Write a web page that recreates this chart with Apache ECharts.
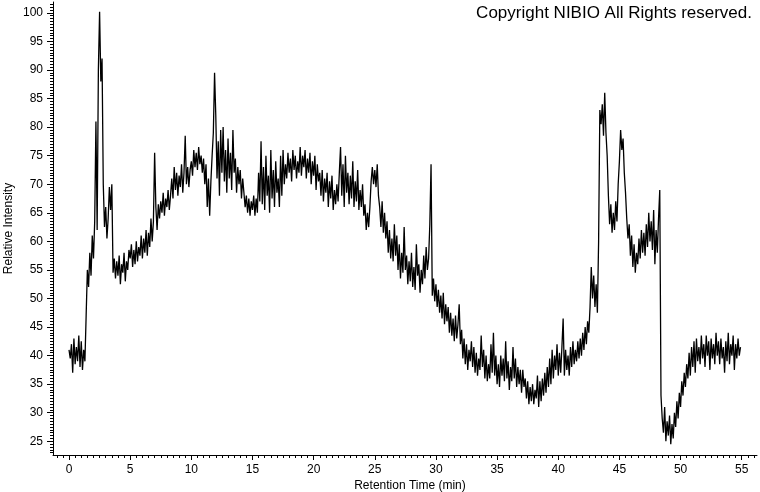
<!DOCTYPE html>
<html><head><meta charset="utf-8">
<script src="https://cdn.jsdelivr.net/npm/echarts@6/dist/echarts.min.js"></script>
<style>html,body{margin:0;padding:0;background:#fff}#c{width:760px;height:492px}</style>
</head><body><div id="c"></div><script>
// sampling of the trace: one reading every 0.1 min starting at 0.0 min
const sampleStart = 0.0;
const sampleStep = 0.1;
// Relative intensity readings, 5 minutes per array
const ri00_05 = [41.0,39.5,42.0,37.0,43.0,38.5,41.5,39.0,43.5,38.0,
  42.5,37.5,41.0,39.0,47.0,55.0,52.0,58.0,54.0,61.0,
  57.0,63.5,81.0,62.0,90.0,100.2,88.0,92.0,70.0,62.5,
  66.0,60.5,64.0,69.5,65.5,70.0,54.5,57.0,53.5,56.5,
  54.0,57.5,52.5,56.0,54.5,58.0,53.0,56.5,55.0,58.5];
const ri05_10 = [57.0,59.5,55.5,58.5,56.0,60.0,56.5,59.0,57.5,61.0,
  57.0,60.5,58.0,62.0,57.5,61.5,59.0,64.0,60.0,63.5,
  75.5,66.0,62.0,66.5,64.0,67.0,65.0,68.5,64.5,67.5,
  66.0,69.0,65.5,68.0,71.0,67.5,73.0,69.0,72.0,68.0,
  71.5,69.5,73.5,68.5,72.0,78.5,70.0,73.0,69.5,72.5];
const ri10_15 = [74.0,71.5,76.0,73.0,75.5,72.5,76.5,73.5,75.0,72.0,
  74.5,70.0,73.5,66.0,71.0,64.5,70.5,75.0,79.0,89.5,
  82.0,71.0,77.5,68.0,79.5,72.0,80.0,70.5,76.0,68.5,
  78.0,71.0,75.5,69.0,79.5,72.0,74.5,68.5,73.0,70.0,
  72.5,67.5,71.0,68.5,66.0,68.0,65.0,67.5,64.5,67.0];
const ri15_20 = [65.5,68.0,64.5,67.5,65.0,72.0,67.0,77.5,66.5,73.0,
  65.5,75.0,68.0,71.5,65.0,76.0,67.5,72.5,66.0,74.0,
  68.5,71.0,66.0,75.0,68.0,76.0,70.0,73.5,71.0,75.5,
  72.0,74.5,70.5,76.0,72.5,75.0,71.0,74.0,72.0,76.5,
  71.5,75.0,73.0,76.0,71.0,74.5,72.0,75.5,70.0,74.0];
const ri20_25 = [71.5,75.0,69.0,73.5,70.5,72.0,68.0,72.5,67.0,71.0,
  68.5,72.0,66.0,70.5,67.5,71.5,65.5,69.0,66.5,70.0,
  67.0,72.0,76.5,68.0,73.5,66.0,75.0,68.5,72.0,66.5,
  71.5,67.5,74.0,66.0,70.5,67.0,72.5,65.5,69.0,66.0,
  70.0,64.5,66.5,62.0,65.0,62.5,66.0,70.5,73.0,70.0];
const ri25_30 = [72.5,69.5,73.5,68.0,66.0,62.5,67.0,61.5,65.0,60.5,
  63.5,58.0,62.0,57.0,60.5,56.5,63.0,57.5,61.0,55.0,
  59.5,53.5,58.0,54.5,62.5,55.0,57.5,52.5,56.5,53.0,
  58.0,52.0,55.5,51.5,59.5,54.0,56.0,51.0,55.0,52.5,
  57.5,53.5,59.0,55.0,57.0,63.0,73.5,50.5,53.5,49.5];
const ri30_35 = [52.5,48.5,51.5,47.5,50.5,46.5,51.0,45.5,49.0,46.0,
  48.5,44.0,47.5,43.5,46.5,42.5,47.0,43.0,45.5,49.0,
  42.0,44.5,39.5,43.0,38.5,42.0,37.5,41.0,39.0,42.5,
  38.0,41.5,37.0,40.5,36.5,39.5,37.5,43.5,38.0,41.0,
  36.0,40.0,35.5,38.5,36.0,42.0,37.0,44.0,36.5,40.0];
const ri35_40 = [35.0,38.5,34.5,40.0,36.5,39.5,35.5,42.5,36.0,39.0,
  34.0,38.0,35.5,41.5,36.0,39.5,34.5,38.0,35.0,37.5,
  33.5,37.5,34.5,36.0,32.5,35.5,31.5,34.5,32.0,35.0,
  31.5,34.0,32.5,36.5,31.0,35.5,32.0,36.0,33.0,37.0,
  33.5,38.0,34.5,39.5,35.0,41.0,36.0,40.0,37.5,42.0];
const ri40_45 = [36.5,40.5,37.0,41.5,46.5,36.5,41.0,37.5,40.0,36.5,
  41.5,38.0,42.5,38.5,41.0,39.0,42.5,39.5,43.0,40.0,
  44.0,41.0,45.0,42.0,46.0,44.0,48.5,55.5,50.0,54.0,
  48.5,52.5,47.5,60.0,83.0,80.5,84.0,78.5,86.0,79.0,
  75.0,68.0,63.0,66.5,61.5,65.0,62.0,67.0,63.5,70.0];
const ri45_50 = [74.0,79.5,76.0,78.0,72.0,68.5,64.0,60.5,63.0,57.5,
  61.0,55.5,59.5,54.5,58.0,56.0,60.5,57.0,62.0,58.0,
  61.5,57.5,63.0,59.0,65.0,60.0,63.5,58.5,65.5,56.0,
  62.0,58.0,64.0,69.0,33.0,29.0,26.5,31.0,25.0,28.5,
  26.0,29.5,24.5,28.0,25.5,30.0,27.5,32.0,29.0,33.5];
const ri50_55 = [31.0,35.5,33.0,37.0,34.5,38.5,36.0,40.5,36.5,41.5,
  38.0,42.5,37.0,43.0,39.0,41.5,38.5,43.5,39.5,42.0,
  38.0,43.5,40.0,42.5,37.5,43.0,39.5,42.0,38.5,44.0,
  40.0,42.5,38.5,43.0,39.5,41.5,37.0,42.5,39.0,44.0,
  38.5,42.0,40.0,43.5,37.5,42.0,39.5,43.0,40.0,41.5];

// axis ticks
const xTickValues = [0,5,10,15,20,25,30,35,40,45,50,55];
const yTickValues = [25,30,35,40,45,50,55,60,65,70,75,80,85,90,95,100];
const xMinorStep = 0.5, yMinorStep = 0.5;
const xRange = [-1.31, 56.25];
const yRange = [22.6, 101.9];

const allVals = [].concat(ri00_05, ri05_10, ri10_15, ri15_20, ri20_25, ri25_30,
  ri30_35, ri35_40, ri40_45, ri45_50, ri50_55);
const seriesData = allVals.map((v, i) => [+(sampleStart + i * sampleStep).toFixed(2), v]);

const xMinor = [];
for (let v = Math.ceil(xRange[0] / xMinorStep) * xMinorStep; v <= xRange[1]; v += xMinorStep) xMinor.push(+v.toFixed(2));
const yMinor = [];
for (let v = Math.ceil(yRange[0] / yMinorStep) * yMinorStep; v <= yRange[1]; v += yMinorStep) yMinor.push(+v.toFixed(2));

const FONT = '"Liberation Sans", Arial, sans-serif';
const chart = echarts.init(document.getElementById('c'), null, {renderer: 'canvas'});
const lineCol = '#000';
chart.setOption({
  animation: false,
  backgroundColor: '#fff',
  grid: {left: 53, right: 3, top: 2, bottom: 37, containLabel: false, outerBoundsMode: 'none'},
  graphic: [{
    type: 'text', right: 8, top: 5,
    style: {text: 'Copyright NIBIO All Rights reserved.', font: '17px ' + FONT, fill: '#000'}
  }],
  xAxis: [{
    type: 'value', min: xRange[0], max: xRange[1], position: 'bottom',
    axisLine: {onZero: false, lineStyle: {color: lineCol, width: 1}},
    axisTick: {show: true, length: 5, customValues: xTickValues, lineStyle: {color: lineCol}},
    axisLabel: {customValues: xTickValues, color: '#000', fontSize: 12, fontFamily: FONT, margin: 9},
    splitLine: {show: false},
    name: 'Retention Time (min)', nameLocation: 'middle', nameGap: 25, nameMoveOverlap: false,
    nameTextStyle: {color: '#000', fontSize: 12, fontFamily: FONT, padding: [0, 0, 0, 10]}
  }, {
    type: 'value', min: xRange[0], max: xRange[1], position: 'bottom', offset: 0,
    axisLine: {show: false, onZero: false},
    axisTick: {show: true, length: 3, customValues: xMinor, lineStyle: {color: lineCol}},
    axisLabel: {show: false},
    splitLine: {show: false}
  }],
  yAxis: [{
    type: 'value', min: yRange[0], max: yRange[1], position: 'left',
    axisLine: {show: true, onZero: false, lineStyle: {color: lineCol, width: 1}},
    axisTick: {show: true, length: 6, customValues: yTickValues, lineStyle: {color: lineCol}},
    axisLabel: {customValues: yTickValues, color: '#000', fontSize: 12, fontFamily: FONT, margin: 10},
    splitLine: {show: false},
    name: 'Relative Intensity', nameLocation: 'middle', nameGap: 38, nameMoveOverlap: false,
    nameTextStyle: {color: '#000', fontSize: 12, fontFamily: FONT}
  }, {
    type: 'value', min: yRange[0], max: yRange[1], position: 'left', offset: 0,
    axisLine: {show: false, onZero: false},
    axisTick: {show: true, length: 3, customValues: yMinor, lineStyle: {color: lineCol}},
    axisLabel: {show: false},
    splitLine: {show: false}
  }],
  series: [{
    type: 'line', xAxisIndex: 0, yAxisIndex: 0, data: seriesData,
    showSymbol: false, symbol: 'none', sampling: null,
    lineStyle: {color: '#000', width: 1.3}, itemStyle: {color: '#000'}
  }]
});
</script></body></html>
